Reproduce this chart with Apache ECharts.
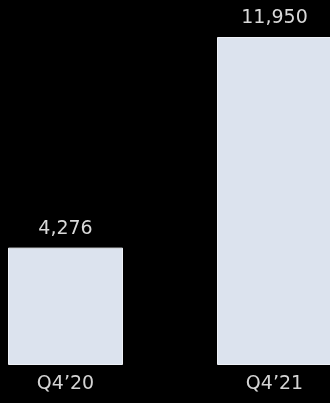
<!DOCTYPE html>
<html><head><meta charset="utf-8">
<script src="https://cdn.jsdelivr.net/npm/echarts@6/dist/echarts.min.js"></script>
<style>html,body{margin:0;padding:0;background:#000;}#c{width:330px;height:403px;}</style>
</head><body><div id="c"></div>
<script>
const categories = ['Q4\u201920', 'Q4\u201921'];
const values = [4276, 11950];

const chart = echarts.init(document.getElementById('c'), null, {renderer: 'canvas'});
chart.setOption({
  backgroundColor: '#000000',
  animation: false,
  grid: {left: 65.5, right: 55.5, top: 37, bottom: 38, containLabel: false},
  xAxis: {
    type: 'category', data: categories, boundaryGap: false,
    axisLine: {show: false}, axisTick: {show: false}, splitLine: {show: false},
    axisLabel: {color: '#d4d4d4', fontSize: 19, fontFamily: 'DejaVu Sans', margin: 10}
  },
  yAxis: {type: 'value', min: 0, max: 11950, show: false, splitLine: {show: false}},
  series: [{
    type: 'bar', data: values, barWidth: 115, clip: false,
    itemStyle: {color: '#dce3ee', borderColor: '#eef1f6', borderWidth: 1},
    label: {show: true, position: 'top', distance: 9, color: '#d9d9d9', fontSize: 19, fontFamily: 'DejaVu Sans',
      formatter: p => p.value.toLocaleString('en-US')}
  }]
});
</script></body></html>
